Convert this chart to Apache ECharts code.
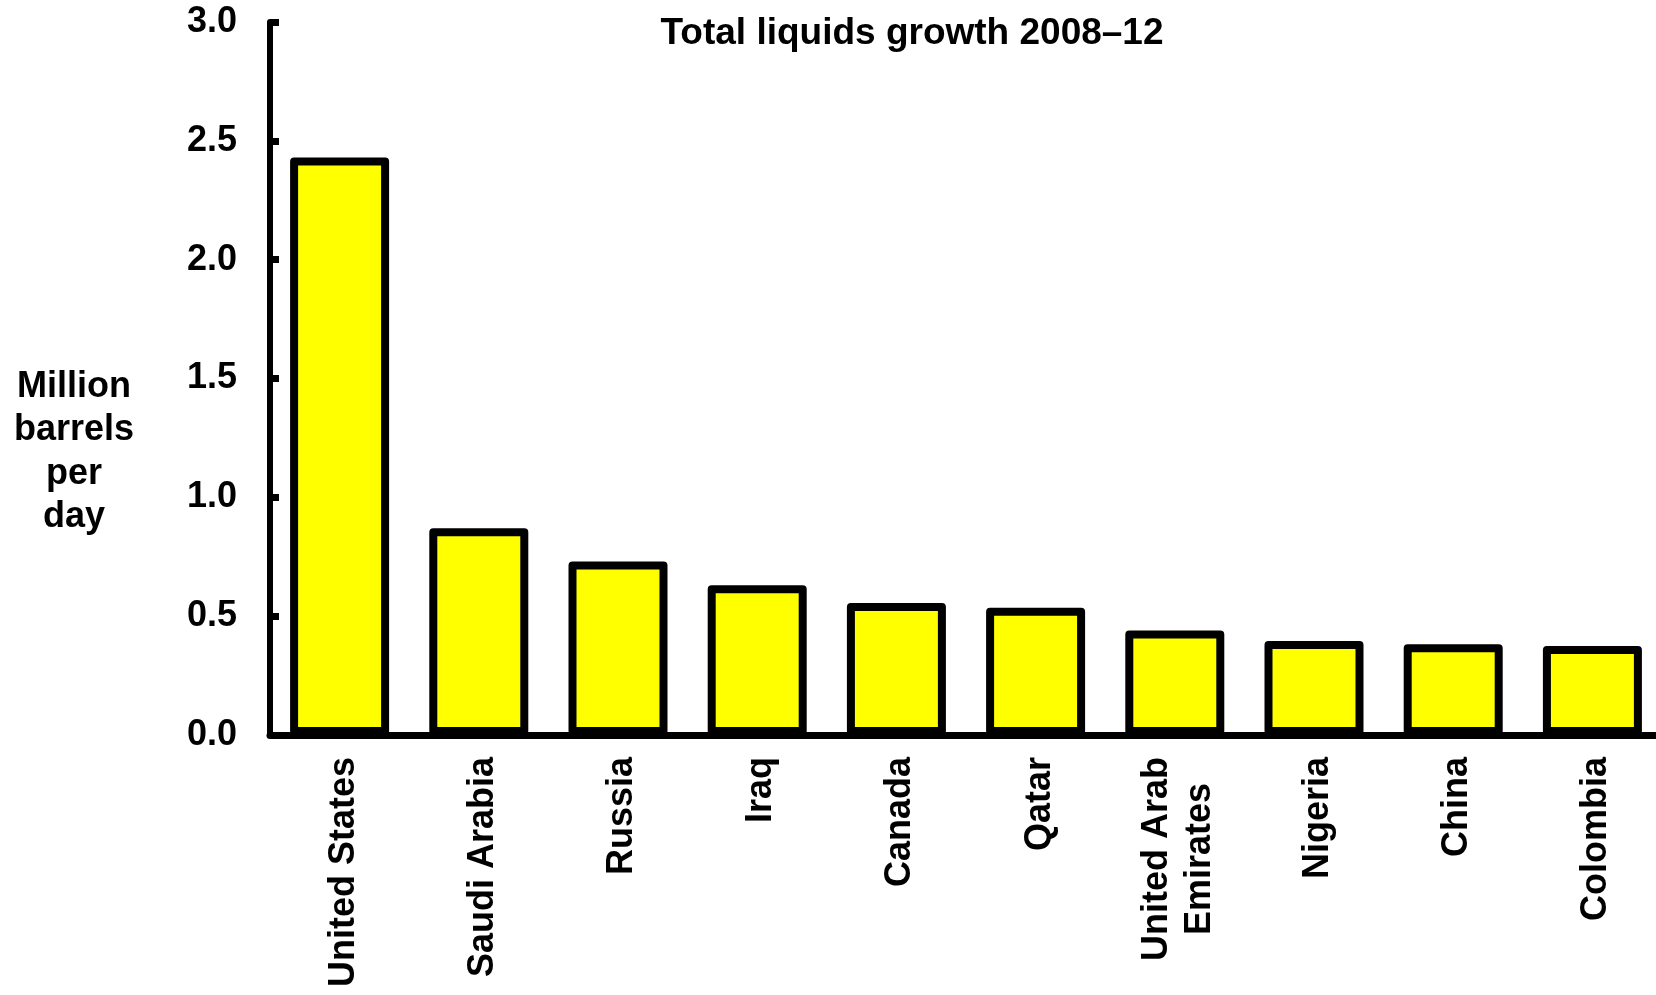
<!DOCTYPE html>
<html>
<head>
<meta charset="utf-8">
<script src="https://cdn.jsdelivr.net/npm/echarts@6/dist/echarts.min.js"></script>
<style>
html,body{margin:0;padding:0;background:#fff;}
#chart{width:1656px;height:995px;}
</style>
</head>
<body>
<div id="chart"></div>
<script>
const categories = ['United States', 'Saudi Arabia', 'Russia', 'Iraq', 'Canada', 'Qatar', 'United Arab\nEmirates', 'Nigeria', 'China', 'Colombia'];
const growth = [2.43, 0.87, 0.73, 0.63, 0.555, 0.535, 0.44, 0.395, 0.382, 0.374];
const yTicks = [0.0, 0.5, 1.0, 1.5, 2.0, 2.5, 3.0];
const titleText = 'Total liquids growth 2008\u201312';
const yName = 'Million\nbarrels\nper\nday';

const FONT = "'Liberation Sans', Arial, sans-serif";
const chart = echarts.init(document.getElementById('chart'), null, {renderer: 'canvas'});
chart.setOption({
  animation: false,
  backgroundColor: '#ffffff',
  title: [
    {
      text: titleText, left: 912, top: 14, textAlign: 'center', padding: 0,
      textStyle: {fontFamily: FONT, fontWeight: 'bold', fontSize: 37, color: '#000', lineHeight: 40}
    },
    {
      text: yName, left: 74, top: 365, textAlign: 'center', padding: 0,
      textStyle: {fontFamily: FONT, fontWeight: 'bold', fontSize: 36, color: '#000', lineHeight: 43.5, align: 'center'}
    }
  ],
  grid: {left: 270, width: 1392, top: 22, bottom: 260, containLabel: false, outerBoundsMode: 'none'},
  xAxis: {
    type: 'category',
    data: categories,
    axisLine: {show: true, lineStyle: {color: '#000', width: 7}},
    axisTick: {show: false},
    axisLabel: {
      rotate: 90, margin: 22, interval: 0, padding: [8, 0, 0, 0],
      fontFamily: FONT, fontWeight: 'bold', fontSize: 36, color: '#000', lineHeight: 43,
      formatter: function (v) { return v.split('\n').map(function (s) { return '{c|' + s + '}'; }).join('\n'); },
      rich: {c: {align: 'center', fontFamily: FONT, fontWeight: 'bold', fontSize: 36, color: '#000', lineHeight: 43}}
    },
    splitLine: {show: false}
  },
  yAxis: {
    type: 'value', min: yTicks[0], max: yTicks[yTicks.length - 1], interval: 0.5,
    axisLine: {show: true, lineStyle: {color: '#000', width: 6}},
    axisTick: {show: true, inside: true, length: 9, lineStyle: {color: '#000', width: 7}},
    axisLabel: {
      margin: 33, fontFamily: FONT, fontWeight: 'bold', fontSize: 36, color: '#000',
      formatter: function (v) { return v.toFixed(1); }
    },
    splitLine: {show: false}
  },
  series: [{
    type: 'bar',
    data: growth,
    barWidth: 99,
    itemStyle: {color: '#ffff00', borderColor: '#000', borderWidth: 8, borderJoin: 'round'}
  }]
});
</script>
</body>
</html>
